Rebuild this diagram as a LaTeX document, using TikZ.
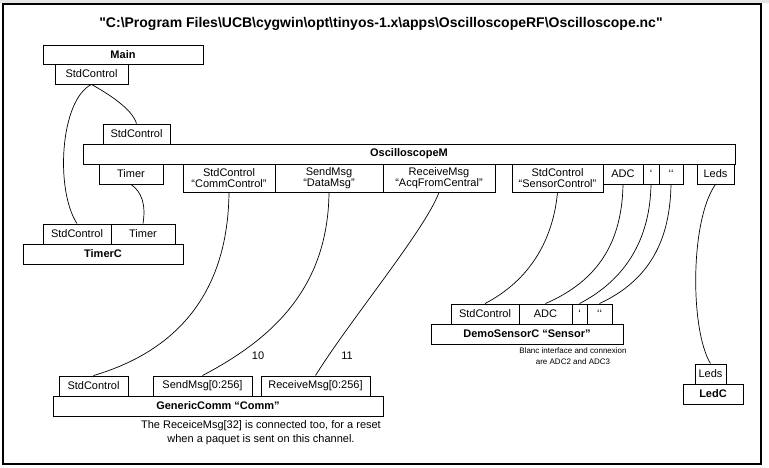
\documentclass[tikz,border=0pt]{standalone}
\usepackage{fontspec}
\setmainfont{Liberation Sans}
\begin{document}
\begin{tikzpicture}[x=1pt, y=-1pt,
  box/.style={draw, line width=0.9pt, inner sep=0pt, align=center, font=\fontsize{11}{11}\selectfont},
  comp/.style={box, font=\fontsize{11}{11}\selectfont\bfseries},
  wire/.style={line width=0.7pt}]
  \useasboundingbox (0,0) rectangle (769,468);
  \fill[gray!20] (0,0) rectangle (769,3);
  \draw[line width=1.2pt] (3,4) rectangle (761,464);
  \node[font=\fontsize{14}{14}\selectfont\bfseries] (title) at (381,24)
    {\textquotedbl C:\textbackslash Program Files\textbackslash UCB\textbackslash cygwin\textbackslash opt\textbackslash tinyos-1.x\textbackslash apps\textbackslash OscilloscopeRF\textbackslash Oscilloscope.nc\textquotedbl};
  % Main and its interface
  \node[comp, minimum width=160, minimum height=19] (main) at (123,54.5) {Main};
  \node[box, minimum width=73, minimum height=20] (mainSC) at (91.5,74) {StdControl};
  % OscilloscopeM with provided and used interfaces
  \node[box, minimum width=67, minimum height=20] (oscSC) at (136.5,134) {StdControl};
  \node[comp, minimum width=652, minimum height=20] (osc) at (409,154) {OscilloscopeM};
  \node[box, minimum width=64, minimum height=20] (oscTimer) at (131,174) {Timer};
  \node[box, minimum width=92, minimum height=28] (oscComm) at (229,178) {StdControl\\“CommControl”};
  \node[box, minimum width=108, minimum height=28] (oscData) at (329,178) {SendMsg\\“DataMsg”};
  \node[box, minimum width=112, minimum height=28] (oscAcq) at (439,178) {ReceiveMsg\\“AcqFromCentral”};
  \node[box, minimum width=91, minimum height=28] (oscSensor) at (557.5,178) {StdControl\\“SensorControl”};
  \node[box, minimum width=40, minimum height=20] (oscADC) at (623,174) {ADC};
  \node[box, minimum width=16, minimum height=20] (oscQa) at (651,174) {‘};
  \node[box, minimum width=24, minimum height=20] (oscQb) at (671,174) {‘\kern0pt‘};
  \node[box, minimum width=37, minimum height=20] (oscLeds) at (715.5,174) {Leds};
  % TimerC
  \node[box, minimum width=68, minimum height=20] (timerSC) at (77,234) {StdControl};
  \node[box, minimum width=64, minimum height=20] (timerT) at (143,234) {Timer};
  \node[comp, minimum width=160, minimum height=20] (timerC) at (103,254) {TimerC};
  % DemoSensorC
  \node[box, minimum width=68, minimum height=20] (sensorSC) at (485,314) {StdControl};
  \node[box, minimum width=53, minimum height=20] (sensorADC) at (545.5,314) {ADC};
  \node[box, minimum width=15, minimum height=20] (sensorQa) at (579.5,314) {‘};
  \node[box, minimum width=25, minimum height=20] (sensorQb) at (599.5,314) {‘\kern0pt‘};
  \node[comp, minimum width=192, minimum height=20] (sensor) at (527,334) {DemoSensorC “Sensor”};
  \node[font=\fontsize{8}{11}\selectfont, align=center] (sensorNote) at (573,356.5)
    {Blanc interface and connexion\\are ADC2 and ADC3};
  % LedC
  \node[box, minimum width=31, minimum height=20] (ledLeds) at (710.5,374) {Leds};
  \node[comp, minimum width=60, minimum height=20] (ledC) at (713,394) {LedC};
  % GenericComm
  \node[box, minimum width=69, minimum height=20] (commSC) at (93.5,386) {StdControl};
  \node[box, minimum width=99, minimum height=20] (commSend) at (202.5,386) {SendMsg[0:256]};
  \node[box, minimum width=109, minimum height=20] (commRecv) at (315.5,386) {ReceiveMsg[0:256]};
  \node[comp, minimum width=330, minimum height=20] (comm) at (218,406) {GenericComm “Comm”};
  \node[font=\fontsize{11}{14}\selectfont, align=center] (commNote) at (261,433)
    {The ReceiceMsg[32] is connected too, for a reset\\when a paquet is sent on this channel.};
  \node[font=\fontsize{11}{11}\selectfont] (num10) at (258,356) {10};
  \node[font=\fontsize{11}{11}\selectfont] (num11) at (347,356) {11};
  % wiring
  \draw[wire] (mainSC.south) .. controls (60,100) and (55,190) .. (timerSC.north);
  \draw[wire] (mainSC.south) .. controls (105,92) and (132,108) .. (oscSC.north);
  \draw[wire] (oscTimer.south) .. controls (142,192) and (146,205) .. (timerT.north);
  \draw[wire] (oscComm.south) .. controls (228,290) and (180,350) .. (commSC.north);
  \draw[wire] (oscData.south) .. controls (328,290) and (270,340) .. (commSend.north);
  \draw[wire] (oscAcq.south) .. controls (425,230) and (350,320) .. (commRecv.north);
  \draw[wire] (oscSensor.south) .. controls (553,240) and (530,280) .. (sensorSC.north);
  \draw[wire] (oscADC.south) .. controls (622,240) and (600,280) .. (sensorADC.north);
  \draw[wire] (oscQa.south) .. controls (650,240) and (625,280) .. (sensorQa.north);
  \draw[wire] (oscQb.south) .. controls (670,240) and (650,280) .. (sensorQb.north);
  \draw[wire] (oscLeds.south) .. controls (690,220) and (690,330) .. (ledLeds.north);
\end{tikzpicture}
\end{document}
